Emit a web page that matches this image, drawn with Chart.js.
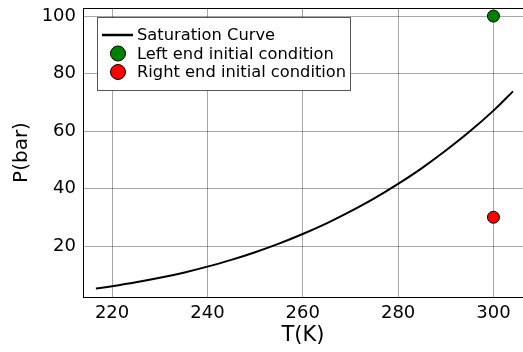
<!DOCTYPE html>
<html>
<head>
<meta charset="utf-8">
<script src="https://cdn.jsdelivr.net/npm/chart.js@4.4.1/dist/chart.umd.min.js"></script>
<style>
  html, body { margin: 0; padding: 0; background: #fff; overflow: hidden; }
  canvas { display: block; }
</style>
</head>
<body>
<canvas id="satChart" width="523" height="352"></canvas>
<script>
// CO2 saturation curve, triple point to critical point
const satT = [216.6, 220, 225, 230, 235, 240, 245, 250, 255, 260, 265, 270, 275, 280, 285, 290, 295, 300, 304.1];
const satP = [5.18, 5.99, 7.36, 8.93, 10.73, 12.83, 15.17, 17.85, 20.85, 24.19, 27.89, 32.03, 36.55, 41.6, 47.1, 53.2, 59.8, 67.1, 73.8];

// initial conditions
const leftT = [300];
const leftP = [100];
const rightT = [300];
const rightP = [30];

const xTicks = [220, 240, 260, 280, 300];
const yTicks = [20, 40, 60, 80, 100];

const FONT = "'DejaVu Sans', sans-serif";

function pts(xs, ys) {
  return xs.map((x, i) => ({ x: x, y: ys[i] }));
}

// legend box drawn inside the plot area, plus the top frame line
const boxLegend = {
  id: 'boxLegend',
  afterDraw(chart) {
    const ctx = chart.ctx;
    const a = chart.chartArea;
    ctx.save();
    // frame top
    ctx.strokeStyle = '#000';
    ctx.lineWidth = 1;
    ctx.beginPath();
    ctx.moveTo(a.left, Math.round(a.top) + 0.5);
    ctx.lineTo(a.right, Math.round(a.top) + 0.5);
    ctx.stroke();

    const bx = 97.5, by = 17.5, bw = 253, bh = 73;
    ctx.fillStyle = '#fff';
    ctx.fillRect(bx, by, bw, bh);
    ctx.strokeStyle = '#555';
    ctx.strokeRect(bx, by, bw, bh);

    ctx.font = '16.3px ' + FONT;
    ctx.textBaseline = 'middle';
    ctx.textAlign = 'left';
    chart.data.datasets.forEach((ds, i) => {
      const yy = 35 + i * 18.5;
      if (ds.showLine) {
        ctx.strokeStyle = ds.borderColor;
        ctx.lineWidth = 2.5;
        ctx.beginPath();
        ctx.moveTo(102, yy);
        ctx.lineTo(133, yy);
        ctx.stroke();
      } else {
        ctx.fillStyle = ds.backgroundColor;
        ctx.strokeStyle = '#000';
        ctx.lineWidth = 1;
        ctx.beginPath();
        ctx.arc(118, yy, 7.5, 0, Math.PI * 2);
        ctx.fill();
        ctx.stroke();
      }
      ctx.fillStyle = '#000';
      ctx.fillText(ds.label, 137, yy + 1);
    });
    ctx.restore();
  }
};

new Chart(document.getElementById('satChart'), {
  type: 'scatter',
  data: {
    datasets: [
      {
        label: 'Saturation Curve',
        data: pts(satT, satP),
        showLine: true,
        borderColor: '#000',
        backgroundColor: '#000',
        borderWidth: 2,
        pointRadius: 0,
        tension: 0.4
      },
      {
        label: 'Left end initial condition',
        data: pts(leftT, leftP),
        backgroundColor: '#008000',
        borderColor: '#000',
        borderWidth: 1,
        pointRadius: 6
      },
      {
        label: 'Right end initial condition',
        data: pts(rightT, rightP),
        backgroundColor: '#ff0000',
        borderColor: '#000',
        borderWidth: 1,
        pointRadius: 6
      }
    ]
  },
  options: {
    responsive: false,
    animation: false,
    layout: { autoPadding: false, padding: { top: 8, right: 0, left: 0, bottom: 0 } },
    plugins: {
      legend: { display: false },
      tooltip: { enabled: false }
    },
    scales: {
      x: {
        type: 'linear',
        min: 213.9,
        max: 306.2,
        afterBuildTicks: s => { s.ticks = xTicks.map(v => ({ value: v })); },
        afterFit: s => { s.height = 55; s.paddingLeft = 0; s.paddingRight = 0; },
        grid: { color: 'rgba(0,0,0,0.35)', drawTicks: false },
        border: { color: '#000', width: 1 },
        ticks: { color: '#000', font: { family: FONT, size: 18 }, padding: 6, maxRotation: 0 },
        title: { display: true, text: 'T(K)', color: '#000', font: { family: FONT, size: 21 }, padding: { top: 3 } }
      },
      y: {
        type: 'linear',
        min: 2.26,
        max: 102.8,
        afterBuildTicks: s => { s.ticks = yTicks.map(v => ({ value: v })); },
        afterFit: s => { s.width = 83; s.paddingTop = 0; s.paddingBottom = 0; },
        grid: { color: 'rgba(0,0,0,0.35)', drawTicks: false },
        border: { color: '#000', width: 1 },
        ticks: { color: '#000', font: { family: FONT, size: 18 }, padding: 7 },
        title: { display: true, text: 'P(bar)', color: '#000', font: { family: FONT, size: 20 }, padding: { top: 10, bottom: 4 } }
      }
    }
  },
  plugins: [boxLegend]
});
</script>
</body>
</html>
